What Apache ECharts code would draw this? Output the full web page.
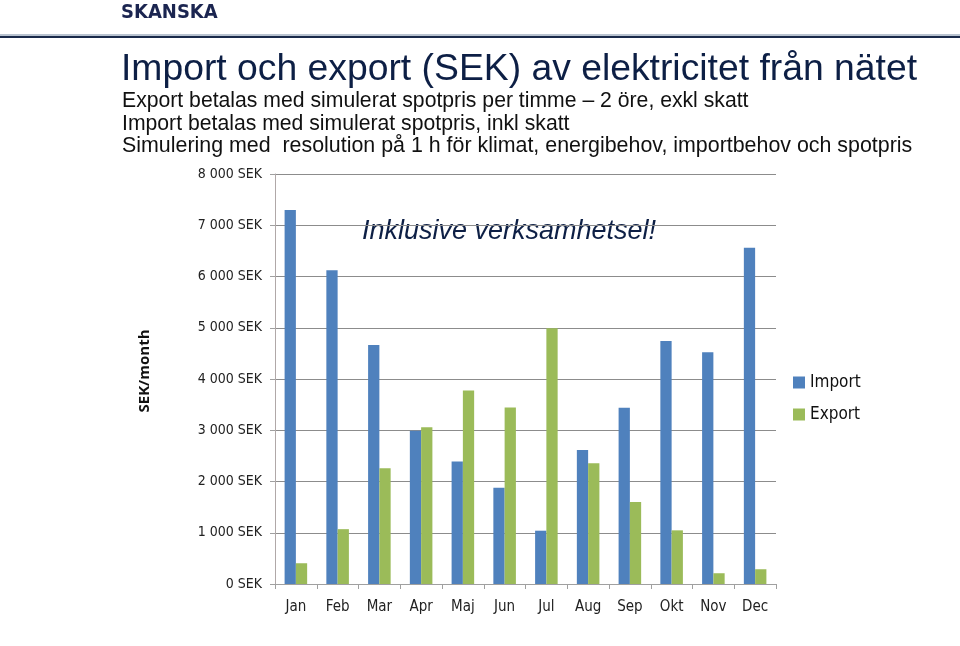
<!DOCTYPE html>
<html>
<head>
<meta charset="utf-8">
<script src="https://cdn.jsdelivr.net/npm/echarts@6/dist/echarts.min.js"></script>
<style>
html,body{margin:0;padding:0;background:#fff;}
#c{width:960px;height:646px;}
</style>
</head>
<body>
<div id="c"></div>
<script>
var months = ['Jan','Feb','Mar','Apr','Maj','Jun','Jul','Aug','Sep','Okt','Nov','Dec'];
var importValues = [7300, 6120, 4665, 2990, 2390, 1880, 1040, 2615, 3440, 4741, 4520, 6562];
var exportValues = [405, 1070, 2260, 3060, 3775, 3445, 4990, 2355, 1600, 1047, 210, 288];
var yTicks = [0, 1000, 2000, 3000, 4000, 5000, 6000, 7000, 8000];

var titleText = 'Import och export (SEK) av elektricitet från nätet';
var subLines = [
  'Export betalas med simulerat spotpris per timme – 2 öre, exkl skatt',
  'Import betalas med simulerat spotpris, inkl skatt',
  'Simulering med  resolution på 1 h för klimat, energibehov, importbehov och spotpris'
];
var noteText = 'Inklusive verksamhetsel!';
var yAxisName = 'SEK/month';

var axisFont = '"Liberation Sans Narrow", "DejaVu Sans Condensed", sans-serif';

function fmt(v) {
  var s = String(v);
  if (v >= 1000) s = s.slice(0, s.length - 3) + ' ' + s.slice(s.length - 3);
  return s + ' SEK';
}

var chart = echarts.init(document.getElementById('c'));
chart.setOption({
  backgroundColor: '#fff',
  animation: false,
  grid: {left: 275, right: 184, top: 174, bottom: 62, containLabel: false},
  legend: {
    orient: 'vertical', left: 793, top: 374, padding: 0, itemWidth: 12, itemHeight: 12, itemGap: 15,
    icon: 'rect',
    textStyle: {fontFamily: axisFont, fontSize: 17, color: '#111'},
    data: ['Import', 'Export']
  },
  xAxis: {
    type: 'category', data: months,
    axisLine: {lineStyle: {color: '#a0a0a0'}},
    axisTick: {show: true, length: 5, lineStyle: {color: '#a0a0a0'}},
    axisLabel: {fontFamily: axisFont, fontSize: 15, color: '#222', margin: 16}
  },
  yAxis: {
    type: 'value', min: 0, max: 8000, interval: 1000,
    axisLine: {show: true, lineStyle: {color: '#b0a8a8'}},
    axisTick: {show: true, length: 5, inside: false, lineStyle: {color: '#a0a0a0'}},
    splitLine: {lineStyle: {color: '#8c8c8c'}},
    axisLabel: {fontFamily: axisFont, fontSize: 14, color: '#222', margin: 13,
      formatter: function (v) { return yTicks.indexOf(v) >= 0 ? fmt(v) : ''; }}
  },
  series: [
    {name: 'Import', type: 'bar', data: importValues, barGap: '0%', barCategoryGap: '46%',
     itemStyle: {color: '#4f81bd'}},
    {name: 'Export', type: 'bar', data: exportValues, barGap: '0%', barCategoryGap: '46%',
     itemStyle: {color: '#9bbb59'}}
  ],
  graphic: [
    {type: 'rect', left: 0, top: 36, shape: {width: 960, height: 2}, style: {fill: '#1a2a4a'}, silent: true},
    {type: 'rect', left: 0, top: 34, shape: {width: 960, height: 2}, style: {fill: '#b9c3d0'}, silent: true},
    {type: 'text', left: 121, top: 3, style: {text: 'SKANSKA', font: '900 20px "Liberation Sans Narrow", "DejaVu Sans Condensed", sans-serif', fill: '#1b2550'}},
    {type: 'text', x: 121, y: 70, style: {text: titleText, font: '37.3px "Liberation Sans", Arial, sans-serif', fill: '#0d1f45', textVerticalAlign: 'middle'}},
    {type: 'text', x: 122, y: 101, style: {text: subLines[0], font: '21.2px "Liberation Sans", Arial, sans-serif', fill: '#111', textVerticalAlign: 'middle'}},
    {type: 'text', x: 122, y: 124, style: {text: subLines[1], font: '21.2px "Liberation Sans", Arial, sans-serif', fill: '#111', textVerticalAlign: 'middle'}},
    {type: 'text', x: 122, y: 146, style: {text: subLines[2], font: '21.4px "Liberation Sans", Arial, sans-serif', fill: '#111', textVerticalAlign: 'middle'}},
    {type: 'text', x: 362, y: 231, style: {text: noteText, font: 'italic 27px "Liberation Sans", Arial, sans-serif', fill: '#0d1f45', textVerticalAlign: 'middle'}},
    {type: 'text', x: 145, y: 371, rotation: Math.PI / 2, style: {text: yAxisName, font: 'bold 15px "Open Sans", sans-serif', fill: '#111', textAlign: 'center', textVerticalAlign: 'middle'}}
  ]
});
</script>
</body>
</html>
